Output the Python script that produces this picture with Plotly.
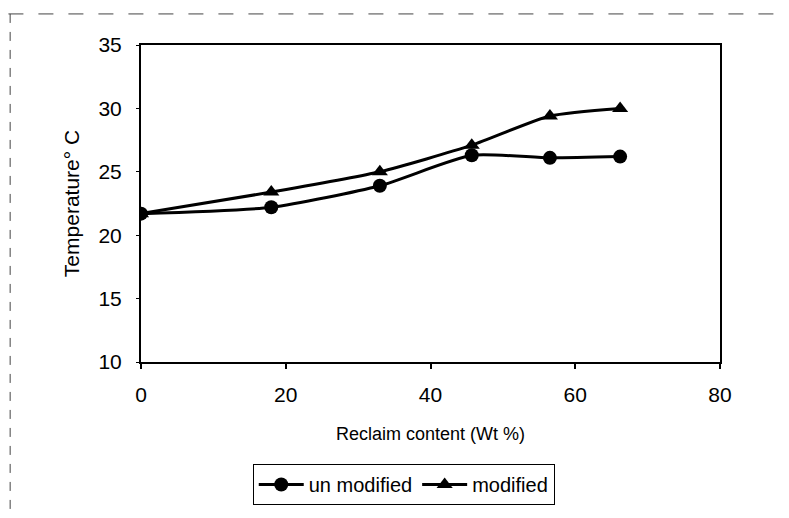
import plotly.graph_objects as go

reclaim = [0, 18, 33, 45.7, 56.5, 66.2]
unmodified = [21.7, 22.2, 23.9, 26.3, 26.1, 26.2]
modified = [21.7, 23.4, 25.0, 27.1, 29.4, 30.0]

fig = go.Figure()
fig.add_trace(go.Scatter(
    x=reclaim, y=unmodified, name="un modified", mode="lines+markers",
    line=dict(color="black", width=3, shape="spline", smoothing=0.6),
    marker=dict(symbol="circle", size=14, color="black")))
fig.add_trace(go.Scatter(
    x=reclaim, y=modified, name="modified", mode="lines+markers",
    line=dict(color="black", width=3, shape="spline", smoothing=0.6),
    marker=dict(symbol="triangle-up", size=14, color="black")))

font = "Liberation Sans, Arial, sans-serif"
fig.update_layout(
    width=781, height=510,
    margin=dict(l=133, r=69, t=37, b=156),
    paper_bgcolor="white", plot_bgcolor="white",
    font=dict(family=font, size=20, color="black"),
    showlegend=True,
    legend=dict(orientation="h", x=0.193, y=-0.322, xanchor="left", yanchor="top",
                bordercolor="black", borderwidth=1, font=dict(size=20),
                itemwidth=45, tracegroupgap=0),
    xaxis=dict(range=[0, 80], dtick=20, showgrid=False, zeroline=False,
               showline=True, linecolor="black", linewidth=2, mirror=True,
               ticks="outside", ticklen=5, tickwidth=1.5, tickcolor="black",
               ticklabelstandoff=8, tickfont=dict(size=21),
               title=dict(text="Reclaim content (Wt %)", font=dict(size=18), standoff=22)),
    yaxis=dict(range=[10, 35], dtick=5, showgrid=False, zeroline=False,
               showline=True, linecolor="black", linewidth=2, mirror=True,
               ticks="outside", ticklen=3, tickwidth=1, tickcolor="black",
               ticklabelstandoff=10, tickfont=dict(size=21),
               title=dict(text="Temperature° C", font=dict(size=21), standoff=13)),
    shapes=[
        dict(type="line", xref="paper", yref="paper", x0=-0.226, x1=-0.226, y0=1.098, y1=-0.49,
             line=dict(color="#444", width=1, dash="dash")),
        dict(type="line", xref="paper", yref="paper", x0=-0.229, x1=1.112, y0=1.098, y1=1.098,
             line=dict(color="#444", width=1, dash="longdash")),
    ],
)

fig.write_html("out.html")
